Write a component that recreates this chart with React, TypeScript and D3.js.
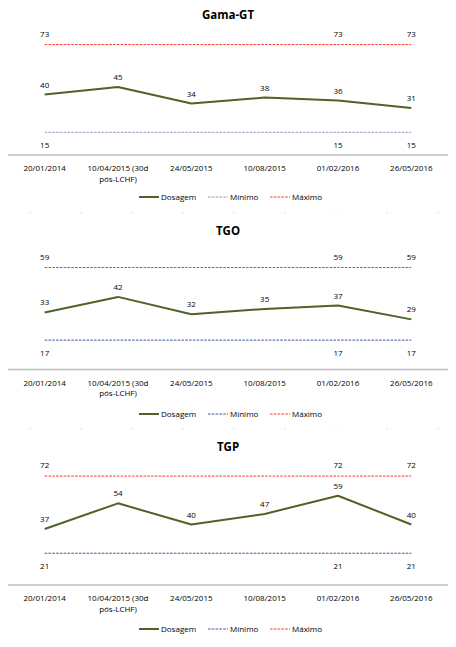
import React from "react";
import * as d3 from "d3";

const categories = [
  "20/01/2014",
  "10/04/2015 (30d pós-LCHF)",
  "24/05/2015",
  "10/08/2015",
  "01/02/2016",
  "26/05/2016",
];

const titles = ["Gama-GT", "TGO", "TGP"];
const dosagemGamaGT = [40, 45, 34, 38, 36, 31];
const dosagemTGO = [33, 42, 32, 35, 37, 29];
const dosagemTGP = [37, 54, 40, 47, 59, 40];
const minimos = [15, 17, 21];
const maximos = [73, 59, 72];
const yMaxes = [80, 70, 80];
const refLabelIdx = [0, 4, 5];
const legendNames = ["Dosagem", "Mínimo", "Máximo"];

const FONT = "'Open Sans', Calibri, sans-serif";
const GREEN = "#4f6228";
const RED = "#ff3b2f";
const BLUES = ["#8c9cbc", "#3a5a9c", "#3a5a9c"];

const W = 456;
const H = 647;
const plotLeft = 8;
const plotRight = 448;
const plotH = 121;
const axisYs = [155, 369.5, 585];
const titleYs = [19, 235, 451];
const legendYs = [200, 417, 632];

function wrap(label: string, maxChars = 15): string[] {
  const words = label.split(" ");
  const lines: string[] = [];
  let cur = "";
  for (const w of words) {
    const next = cur ? cur + " " + w : w;
    if (next.length > maxChars && cur) {
      lines.push(cur);
      cur = w;
    } else cur = next;
  }
  if (cur) lines.push(cur);
  return lines;
}

function Chart({ idx, values }: { idx: number; values: number[] }) {
  const axisY = axisYs[idx];
  const x = d3
    .scaleBand<string>()
    .domain(categories)
    .range([plotLeft, plotRight]);
  const cx = (c: string) => (x(c) as number) + x.bandwidth() / 2;
  const y = d3.scaleLinear().domain([0, yMaxes[idx]]).range([axisY, axisY - plotH]);
  const line = d3
    .line<number>()
    .x((_, i) => cx(categories[i]))
    .y((d) => y(d));
  const minV = minimos[idx];
  const maxV = maximos[idx];
  const refLine = (v: number) =>
    d3
      .line<string>()
      .x((c) => cx(c))
      .y(() => y(v))(categories) as string;

  const legendY = legendYs[idx];
  const legendItems = [
    { name: legendNames[0], color: GREEN, dash: undefined as string | undefined, x0: 139, w: 2 },
    { name: legendNames[1], color: BLUES[idx], dash: "2.6,1.2", x0: 208, w: 1 },
    { name: legendNames[2], color: RED, dash: "2.6,1.2", x0: 270, w: 1 },
  ];

  return (
    <g>
      <text
        x={W / 2}
        y={titleYs[idx]}
        textAnchor="middle"
        fontFamily={FONT}
        fontWeight="bold"
        fontSize={11.5}
        fill="#000"
      >
        {titles[idx]}
      </text>
      <path d={refLine(maxV)} stroke={RED} strokeWidth={1} strokeDasharray="2.6,1.2" fill="none" />
      <path d={refLine(minV)} stroke={BLUES[idx]} strokeWidth={1} strokeDasharray="2.6,1.2" fill="none" />
      <path d={line(values) as string} stroke={GREEN} strokeWidth={2} fill="none" strokeLinejoin="round" />
      {values.map((v, i) => (
        <text
          key={"d" + i}
          x={cx(categories[i])}
          y={y(v) - 7}
          textAnchor="middle"
          fontFamily={FONT}
          fontSize={8}
          fill="#000"
        >
          {v}
        </text>
      ))}
      {refLabelIdx.map((i) => (
        <g key={"r" + i}>
          <text x={cx(categories[i])} y={y(maxV) - 8} textAnchor="middle" fontFamily={FONT} fontSize={8} fill="#000">
            {maxV}
          </text>
          <text x={cx(categories[i])} y={y(minV) + 16} textAnchor="middle" fontFamily={FONT} fontSize={8} fill="#000">
            {minV}
          </text>
        </g>
      ))}
      <line x1={plotLeft} x2={plotRight} y1={axisY} y2={axisY} stroke="#bfbfbf" strokeWidth={1.3} />
      {categories.map((c) => (
        <text key={c} x={cx(c)} y={axisY + 16} textAnchor="middle" fontFamily={FONT} fontSize={8} fill="#000">
          {wrap(c).map((ln, k) => (
            <tspan key={k} x={cx(c)} dy={k === 0 ? 0 : 10.5}>
              {ln}
            </tspan>
          ))}
        </text>
      ))}
      {legendItems.map((it) => (
        <g key={it.name}>
          <line
            x1={it.x0}
            x2={it.x0 + 20}
            y1={legendY - 3}
            y2={legendY - 3}
            stroke={it.color}
            strokeWidth={it.w}
            strokeDasharray={it.dash}
          />
          <text x={it.x0 + 22} y={legendY} fontFamily={FONT} fontSize={8} fill="#000">
            {it.name}
          </text>
        </g>
      ))}
    </g>
  );
}

export default function App() {
  const series = [dosagemGamaGT, dosagemTGO, dosagemTGP];
  const dotXs = d3.range(9).map((k) => 29.5 + 51 * k);
  return (
    <svg
      width={W}
      height={H}
      viewBox={`0 0 ${W} ${H}`}
      style={{ position: "absolute", left: 0, top: 0, background: "#fff" }}
    >
      <rect width={W} height={H} fill="#fff" />
      {[212, 428].map((yy) =>
        dotXs.map((xx) => <rect key={yy + "-" + xx} x={xx} y={yy} width={1} height={2} fill="#e4e4e4" />)
      )}
      {series.map((s, i) => (
        <Chart key={i} idx={i} values={s} />
      ))}
    </svg>
  );
}
